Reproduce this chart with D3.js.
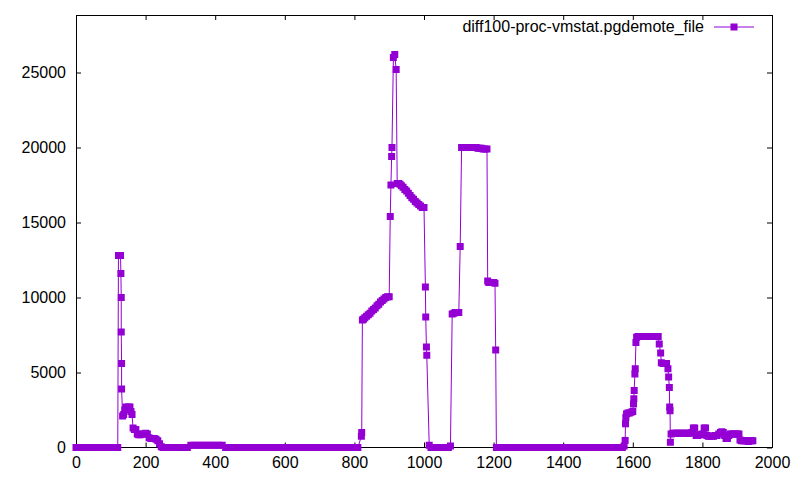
<!DOCTYPE html>
<html>
<head>
<meta charset="utf-8">
<script src="https://cdn.jsdelivr.net/npm/d3@7"></script>
<style>
  body { margin: 0; background: #fff; }
  text { font-family: "Liberation Sans", Arial, sans-serif; font-size: 16px; fill: #000; }
</style>
</head>
<body>
<svg id="chart" width="800" height="480"></svg>
<script>
// ----------------- DATA ----------------- //
var seriesName = 'diff100-proc-vmstat.pgdemote_file';
var xTicks = [0, 200, 400, 600, 800, 1000, 1200, 1400, 1600, 1800, 2000];
var yTicks = [0, 5000, 10000, 15000, 20000, 25000];

var elapsed = [
  0, 10, 20, 30, 40, 50, 60, 70, 80, 90, 100, 110, 120,
  122, 128, 129, 130, 130, 131, 131,
  134, 137, 140, 143, 147, 151, 155, 158, 161, 164,
  168, 172, 176, 180, 185, 190, 195, 200, 205, 210,
  215, 220, 225, 230, 235, 240, 245, 250,
  260, 270, 280, 290, 300, 310, 320,
  330, 340, 350, 360, 370, 380, 390, 400, 410, 420,
  430, 440, 450, 460, 470, 480, 490, 500, 510, 520,
  530, 540, 550, 560, 570, 580, 590, 600, 610, 620,
  630, 640, 650, 660, 670, 680, 690, 700, 710, 720,
  730, 740, 750, 760, 770, 780, 790, 800, 810,
  820, 821, 823, 826, 830, 835, 840, 845, 850, 855,
  860, 865, 870, 875, 880, 885, 890, 895, 900, 903,
  905, 907, 908, 912, 916, 920, 923, 927, 931, 935,
  940, 945, 950, 955, 960, 965, 970, 975, 980, 985,
  990, 995, 1000, 1004, 1005, 1007, 1008, 1015,
  1020, 1030, 1040, 1050, 1060, 1070, 1076, 1081, 1086, 1090,
  1095, 1100, 1104, 1108, 1112, 1116, 1120, 1125, 1130, 1135,
  1140, 1145, 1150, 1155, 1160, 1165, 1170, 1175, 1181, 1183,
  1186, 1190, 1195, 1200, 1204, 1206, 1208,
  1220, 1230, 1240, 1250, 1260, 1270, 1280, 1290, 1300, 1310,
  1320, 1330, 1340, 1350, 1360, 1370, 1380, 1390, 1400, 1410,
  1420, 1430, 1440, 1450, 1460, 1470, 1480, 1490, 1500, 1510,
  1520, 1530, 1540, 1550, 1560, 1570,
  1575, 1578, 1579, 1580, 1582, 1586, 1590, 1595, 1600, 1602,
  1603, 1604, 1606, 1607, 1609, 1611, 1615, 1620, 1625, 1630,
  1635, 1640, 1645, 1650, 1655, 1660, 1665, 1670, 1673, 1676,
  1680, 1682, 1687, 1692, 1697, 1701, 1703, 1705, 1706, 1707,
  1708, 1710, 1715, 1720, 1725, 1730, 1735, 1740, 1745, 1750,
  1755, 1760, 1765, 1770, 1774, 1778, 1782, 1786, 1790, 1795,
  1800, 1805, 1809, 1813, 1817, 1822, 1827, 1832, 1837, 1842,
  1847, 1852, 1856, 1860, 1864, 1868, 1872, 1876, 1880, 1885,
  1890, 1895, 1900, 1905, 1908, 1912, 1917, 1922, 1927, 1932,
  1937, 1941, 1945
];

var pgdemoteFile = [
  0, 0, 0, 0, 0, 0, 0, 0, 0, 0, 0, 0, 0,
  12800, 12800, 11600, 10000, 7700, 5600, 3900,
  2100, 2200, 2500, 2700, 2600, 2700, 2700, 2400, 2200, 1300,
  1200, 1200, 900, 850, 850, 900, 900, 950, 900, 650,
  600, 600, 600, 550, 450, 250, 50, 0,
  0, 0, 0, 0, 0, 0, 0,
  150, 150, 150, 150, 150, 150, 150, 150, 150, 150,
  0, 0, 0, 0, 0, 0, 0, 0, 0, 0,
  0, 0, 0, 0, 0, 0, 0, 0, 0, 0,
  0, 0, 0, 0, 0, 0, 0, 0, 0, 0,
  0, 0, 0, 0, 0, 0, 0, 0, 0,
  750, 1000, 8500, 8550, 8650, 8750, 8850, 8950, 9100, 9200,
  9300, 9450, 9550, 9700, 9800, 9900, 10000, 10050, 10050, 15400,
  17500, 19400, 20000, 26000, 26200, 25200, 17600, 17600, 17550, 17450,
  17350, 17200, 17100, 16950, 16800, 16650, 16550, 16400, 16300, 16200,
  16100, 16000, 16000, 10700, 8700, 6700, 6150, 150,
  0, 0, 0, 0, 0, 0, 100, 8900, 8950, 9000,
  9000, 9000, 13400, 20000, 20000, 20000, 20000, 20000, 20000, 20000,
  20000, 20000, 20000, 19950, 19950, 19950, 19900, 19900, 19900, 11100,
  11000, 11000, 11000, 11000, 10950, 6500, 0,
  0, 0, 0, 0, 0, 0, 0, 0, 0, 0,
  0, 0, 0, 0, 0, 0, 0, 0, 0, 0,
  0, 0, 0, 0, 0, 0, 0, 0, 0, 0,
  0, 0, 0, 0, 0, 0,
  100, 470, 1580, 2000, 2240, 2300, 2300, 2350, 2400, 2900,
  3250, 3800, 4900, 5250, 7000, 7350, 7400, 7400, 7400, 7400,
  7400, 7400, 7400, 7400, 7400, 7400, 7400, 7400, 7400, 6900,
  6300, 5650, 5600, 5600, 5600, 5250, 4700, 4000, 2700, 2450,
  350, 900, 950, 950, 950, 950, 950, 950, 950, 950,
  950, 950, 950, 1000, 1300, 1300, 800, 800, 850, 850,
  900, 1300, 1300, 800, 750, 750, 750, 750, 800, 800,
  900, 1000, 1050, 1000, 800, 600, 600, 800, 900, 900,
  900, 900, 900, 900, 500, 450, 450, 450, 450, 400,
  450, 450, 450
];

// ----------------- LAYOUT ----------------- //
var color = '#9400d3';
var plotLeft = 76, plotRight = 772, plotTop = 15, plotBottom = 447.5;
var tickLen = 5;
var markSize = 7;

var svg = d3.select('#chart');

var x = d3.scaleLinear().domain([0, 2000]).range([plotLeft, plotRight]);
var y = d3.scaleLinear().domain([0, (plotBottom - plotTop) / 75 * 5000]).range([plotBottom, plotTop]);

var points = elapsed.map(function (t, i) { return [t, pgdemoteFile[i]]; });

// ----------------- AXES ----------------- //
// gnuplot style: ticks inward on all four sides
svg.append('g')
    .attr('transform', 'translate(0,' + plotBottom + ')')
    .call(d3.axisBottom(x).tickValues(xTicks).tickSize(-tickLen).tickFormat(d3.format('d')))
    .call(g => g.select('.domain').remove())
    .call(g => g.selectAll('.tick text').attr('y', 9));

svg.append('g')
    .attr('transform', 'translate(0,' + plotTop + ')')
    .call(d3.axisTop(x).tickValues(xTicks).tickSize(-tickLen).tickFormat(''))
    .call(g => g.select('.domain').remove());

svg.append('g')
    .attr('transform', 'translate(' + plotLeft + ',0)')
    .call(d3.axisLeft(y).tickValues(yTicks).tickSize(-tickLen).tickFormat(d3.format('d')))
    .call(g => g.select('.domain').remove())
    .call(g => g.selectAll('.tick text').attr('x', -10));

svg.append('g')
    .attr('transform', 'translate(' + plotRight + ',0)')
    .call(d3.axisRight(y).tickValues(yTicks).tickSize(-tickLen).tickFormat(''))
    .call(g => g.select('.domain').remove());

svg.selectAll('.tick text')
    .style('font-family', '"Liberation Sans", Arial, sans-serif')
    .style('font-size', '16px')
    .attr('fill', '#000');
svg.selectAll('.tick line').attr('stroke', '#000');

svg.append('rect')
    .attr('x', plotLeft)
    .attr('y', plotTop)
    .attr('width', plotRight - plotLeft)
    .attr('height', plotBottom - plotTop)
    .attr('fill', 'none')
    .attr('stroke', '#000')
    .attr('stroke-width', 1)
    .attr('shape-rendering', 'crispEdges');

// ----------------- SERIES ----------------- //
var line = d3.line()
    .x(d => x(d[0]))
    .y(d => y(d[1]));

svg.append('path')
    .datum(points)
    .attr('d', line)
    .attr('fill', 'none')
    .attr('stroke', color)
    .attr('stroke-width', 1);

svg.append('g')
    .selectAll('rect')
    .data(points)
    .join('rect')
    .attr('x', d => x(d[0]) - markSize / 2)
    .attr('y', d => y(d[1]) - markSize / 2)
    .attr('width', markSize)
    .attr('height', markSize)
    .attr('fill', color);

// ----------------- LEGEND ----------------- //
var legend = svg.append('g');
legend.append('text')
    .attr('x', 704)
    .attr('y', 32)
    .attr('text-anchor', 'end')
    .text(seriesName);
legend.append('line')
    .attr('x1', 714).attr('x2', 754)
    .attr('y1', 27).attr('y2', 27)
    .attr('stroke', color)
    .attr('stroke-width', 1);
legend.append('rect')
    .attr('x', 734 - markSize / 2)
    .attr('y', 27 - markSize / 2)
    .attr('width', markSize)
    .attr('height', markSize)
    .attr('fill', color);
</script>
</body>
</html>
